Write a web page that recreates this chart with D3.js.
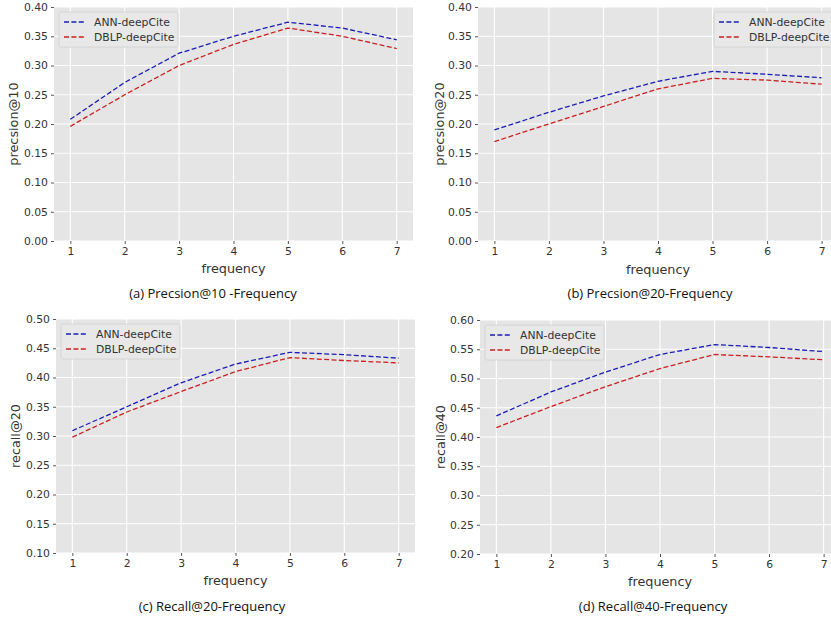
<!DOCTYPE html>
<html>
<head>
<meta charset="utf-8">
<script src="https://cdn.jsdelivr.net/npm/d3@7"></script>
<style>
  body { margin: 0; background: #fff; }
  .tick text { font-family: "DejaVu Sans", sans-serif; font-size: 10.8px; fill: #333; }
  .axisText { font-family: "DejaVu Sans", sans-serif; font-size: 12.8px; fill: #333; }
  .caption { font-family: "Open Sans", "Noto Sans", sans-serif; font-size: 13px; fill: #111; }
  .legendText { font-family: "DejaVu Sans", sans-serif; font-size: 10.8px; fill: #333; }
</style>
</head>
<body>
<div id="chart"></div>
<script>
var frequency = [1, 2, 3, 4, 5, 6, 7];
var seriesNames = ['ANN-deepCite', 'DBLP-deepCite'];

var annP10 = [0.208, 0.271, 0.321, 0.350, 0.374, 0.364, 0.344];
var dblpP10 = [0.196, 0.250, 0.300, 0.336, 0.364, 0.350, 0.329];

var annP20 = [0.190, 0.220, 0.248, 0.273, 0.290, 0.285, 0.279];
var dblpP20 = [0.170, 0.200, 0.230, 0.260, 0.278, 0.275, 0.268];

var annR20 = [0.309, 0.350, 0.391, 0.423, 0.443, 0.439, 0.433];
var dblpR20 = [0.298, 0.341, 0.376, 0.410, 0.434, 0.429, 0.425];

var annR40 = [0.436, 0.477, 0.511, 0.541, 0.558, 0.553, 0.546];
var dblpR40 = [0.416, 0.452, 0.486, 0.517, 0.541, 0.537, 0.532];

var yTicksP = [0, 0.05, 0.10, 0.15, 0.20, 0.25, 0.30, 0.35, 0.40];
var yTicksR20 = [0.10, 0.15, 0.20, 0.25, 0.30, 0.35, 0.40, 0.45, 0.50];
var yTicksR40 = [0.20, 0.25, 0.30, 0.35, 0.40, 0.45, 0.50, 0.55, 0.60];

var colors = ['#1c1cb8', '#cc1f1f'];

var panels = [
    { left: 54, right: 413, top: 7, bottom: 241, yDomain: [0, 0.40], yTicks: yTicksP,
      series: [annP10, dblpP10], ylabel: 'precsion@10', caption: '(a) Precsion@10 -Frequency',
      legend: 'left', ylabelX: 14, captionX: 213, xlabelY: 273, captionY: 298 },
    { left: 478, right: 838, top: 7, bottom: 241, yDomain: [0, 0.40], yTicks: yTicksP,
      series: [annP20, dblpP20], ylabel: 'precsion@20', caption: '(b) Precsion@20-Frequency',
      legend: 'right', ylabelX: 440, captionX: 650, xlabelY: 274, captionY: 298 },
    { left: 56, right: 415, top: 319, bottom: 553, yDomain: [0.10, 0.50], yTicks: yTicksR20,
      series: [annR20, dblpR20], ylabel: 'recall@20', caption: '(c) Recall@20-Frequency',
      legend: 'left', ylabelX: 16, captionX: 212, xlabelY: 585, captionY: 611 },
    { left: 480, right: 840, top: 320, bottom: 554, yDomain: [0.20, 0.60], yTicks: yTicksR40,
      series: [annR40, dblpR40], ylabel: 'recall@40', caption: '(d) Recall@40-Frequency',
      legend: 'left', ylabelX: 441, captionX: 653, xlabelY: 586, captionY: 611 }
];

var svg = d3.select('#chart')
    .append('svg')
    .attr('width', 831)
    .attr('height', 619);

var defs = svg.append('defs');

panels.forEach(function(p, i) {
    var xScale = d3.scaleLinear()
        .domain([0.7, 7.3])
        .range([p.left, p.right]);

    var yScale = d3.scaleLinear()
        .domain(p.yDomain)
        .range([p.bottom, p.top]);

    defs.append('clipPath')
        .attr('id', 'clip' + i)
        .append('rect')
        .attr('x', p.left)
        .attr('y', p.top - 2)
        .attr('width', p.right - p.left)
        .attr('height', p.bottom - p.top + 4);

    var g = svg.append('g');

    g.append('rect')
        .attr('x', p.left)
        .attr('y', p.top)
        .attr('width', p.right - p.left)
        .attr('height', p.bottom - p.top)
        .attr('fill', '#e5e5e5');

    // grid
    g.selectAll('line.vgrid')
        .data(frequency)
        .enter()
        .append('line')
        .attr('x1', d => xScale(d))
        .attr('x2', d => xScale(d))
        .attr('y1', p.top)
        .attr('y2', p.bottom)
        .attr('stroke', '#fff')
        .attr('stroke-width', 1.1);

    g.selectAll('line.hgrid')
        .data(p.yTicks)
        .enter()
        .append('line')
        .attr('x1', p.left)
        .attr('x2', p.right)
        .attr('y1', d => yScale(d))
        .attr('y2', d => yScale(d))
        .attr('stroke', '#fff')
        .attr('stroke-width', 1.1);

    var bottomAxis = d3.axisBottom(xScale)
        .tickValues(frequency)
        .tickFormat(d3.format('d'))
        .tickSize(3)
        .tickPadding(3);

    var leftAxis = d3.axisLeft(yScale)
        .tickValues(p.yTicks)
        .tickFormat(d3.format('.2f'))
        .tickSize(3)
        .tickPadding(3);

    var xAxisG = g.append('g')
        .attr('transform', `translate(0, ${p.bottom})`)
        .call(bottomAxis);

    var yAxisG = g.append('g')
        .attr('transform', `translate(${p.left}, 0)`)
        .call(leftAxis);

    [xAxisG, yAxisG].forEach(function(a) {
        a.select('.domain').remove();
        a.selectAll('.tick line').attr('stroke', '#555');
    });

    var line = d3.line()
        .x((d, j) => xScale(frequency[j]))
        .y(d => yScale(d));

    p.series.forEach(function(s, k) {
        g.append('path')
            .datum(s)
            .attr('clip-path', `url(#clip${i})`)
            .attr('fill', 'none')
            .attr('stroke', colors[k])
            .attr('stroke-width', 1.3)
            .attr('stroke-dasharray', '5,2.4')
            .attr('d', line);
    });

    // legend
    var lw = 119, lh = 35;
    var lx = p.legend === 'left' ? p.left + 5 : p.right - 124;
    var ly = p.top + 5;
    var leg = g.append('g').attr('transform', `translate(${lx}, ${ly})`);
    leg.append('rect')
        .attr('width', lw)
        .attr('height', lh)
        .attr('rx', 2)
        .attr('fill', '#e8e8e8')
        .attr('stroke', '#d0d0d0')
        .attr('stroke-width', 0.8);
    seriesNames.forEach(function(name, k) {
        leg.append('line')
            .attr('x1', 5)
            .attr('x2', 25)
            .attr('y1', 10 + k * 15)
            .attr('y2', 10 + k * 15)
            .attr('stroke', colors[k])
            .attr('stroke-width', 1.3)
            .attr('stroke-dasharray', '5,2.4');
        leg.append('text')
            .attr('class', 'legendText')
            .attr('x', 35)
            .attr('y', 10 + k * 15)
            .attr('dy', '0.35em')
            .text(name);
    });

    g.append('text')
        .attr('class', 'axisText')
        .attr('transform', `translate(${p.ylabelX}, ${(p.top + p.bottom) / 2}) rotate(-90)`)
        .attr('text-anchor', 'middle')
        .attr('dy', '0.35em')
        .text(p.ylabel);

    g.append('text')
        .attr('class', 'axisText')
        .attr('x', xScale(4))
        .attr('y', p.xlabelY)
        .attr('text-anchor', 'middle')
        .text('frequency');

    g.append('text')
        .attr('class', 'caption')
        .attr('x', p.captionX)
        .attr('y', p.captionY)
        .attr('text-anchor', 'middle')
        .text(p.caption);
});
</script>
</body>
</html>
